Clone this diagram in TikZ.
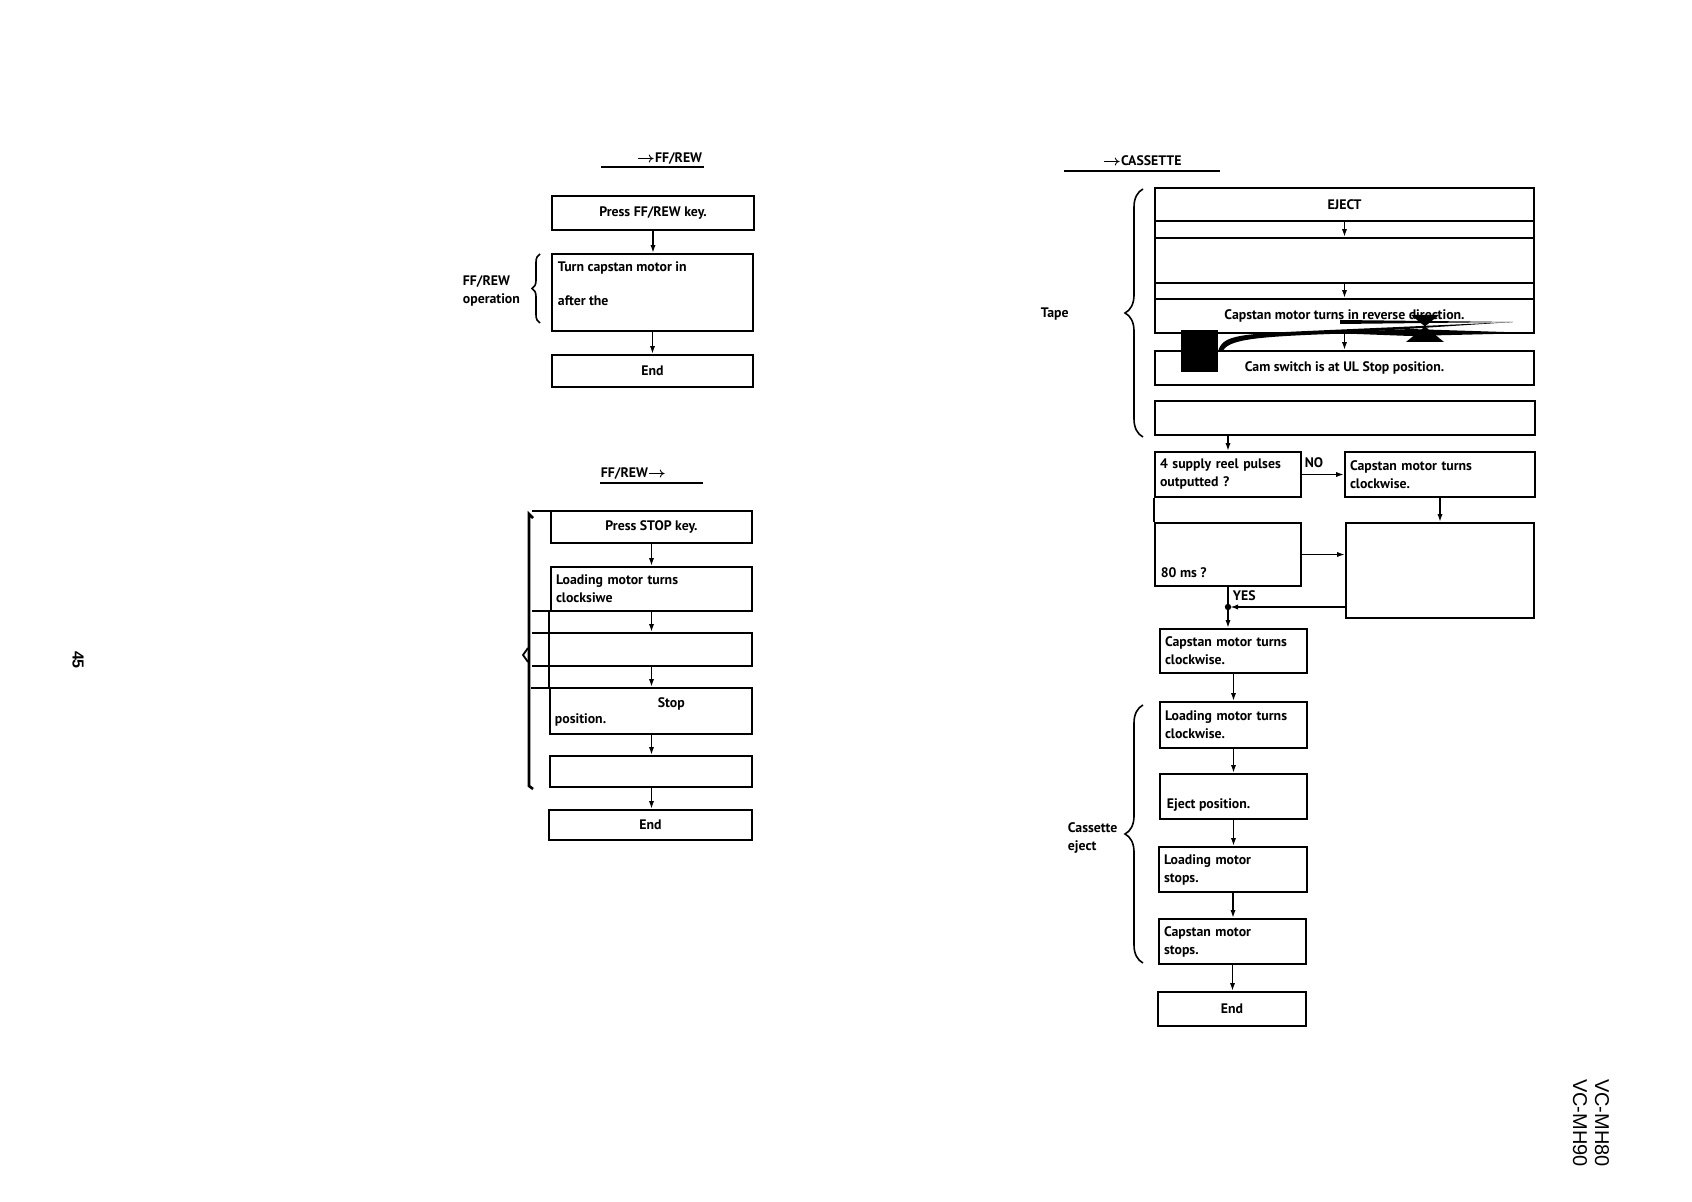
\documentclass[tikz,border=0pt]{standalone}
\usepackage{amsmath}
\usepackage{fontspec}
\usepackage{tikz}
\usetikzlibrary{arrows.meta, decorations.pathreplacing}
\newfontfamily\flowfont{PT Sans}
\newfontfamily\labelfont{Liberation Sans}
\newcommand\flowtext{\flowfont\bfseries\fontsize{6.9pt}{9pt}\selectfont}

\begin{document}
\begin{tikzpicture}[x=0.5pt, y=-0.5pt, line width=0.9pt,
	>={Latex[length=4pt,width=2.6pt]},
	every node/.style={font=\flowtext},
	box/.style={draw, inner sep=0pt, align=center},
	lbox/.style={draw, inner ysep=0pt, inner xsep=2.5pt, align=left},
	lab/.style={inner sep=0pt, anchor=west, align=left},
	brace/.style={decorate, decoration={brace, amplitude=#1}, line width=0.8pt}]
				\useasboundingbox (0,0) rectangle (1692,1202);

				\node[lab, anchor=base east] (ffTitle) at (703,163) {$\boldsymbol{\rightarrow}$FF/REW};
				\draw (601,167) -- (704,167);
				\node[box, minimum width=101pt, minimum height=17pt] (ffKey) at (653,213) {Press FF/REW key.};
				\node[box, minimum width=100.5pt, minimum height=38.5pt] (ffTurn) at (652.5,292.5) {};
				\node[lab] (ffTurnA) at (557,268) {Turn capstan motor in};
				\node[lab] (ffTurnB) at (557,301) {after the};
				\node[box, minimum width=100.5pt, minimum height=16pt] (ffEnd) at (652.5,371) {End};
				\draw[->] (ffKey.south) -- (ffKey.south |- ffTurn.north);
				\draw[->] (ffTurn.south) -- (ffTurn.south |- ffEnd.north);
				\draw[brace=4pt] (540,323) -- (540,254);
				\node[lab] (ffOp) at (462,290.5) {FF/REW\\operation};

				\node[lab, anchor=base west] (stTitle) at (600,478) {FF/REW$\boldsymbol{\rightarrow}$};
				\draw (600,483) -- (703,483);
				\draw (532,511) -- (551,511);
				\node[box, minimum width=100.5pt, minimum height=16pt] (stKey) at (651.5,527) {Press STOP key.};
				\node[lbox, text width=95.5pt, minimum height=22pt] (stLoad) at (651.5,589) {Loading motor turns\\clocksiwe};
				\draw (532,611) -- (551,611);
				\node[box, minimum width=101.5pt, minimum height=16.5pt] (stBlank) at (650.5,649.5) {};
				\draw (532,633) -- (549,633) (532,666) -- (549,666);
				\draw (549,611) -- (549,688);
				\draw (531,688) -- (550,688);
				\node[box, minimum width=101pt, minimum height=23pt] (stPos) at (651,711) {};
				\node[lab] (stPosA) at (657,704) {Stop};
				\node[lab] (stPosB) at (554,720) {position.};
				\node[box, minimum width=101pt, minimum height=15.5pt] (stFaint) at (651,771.5) {};
				\node[box, minimum width=101.5pt, minimum height=15pt] (stEnd) at (650.5,825) {End};
				\draw[->] (stKey.south) -- (stKey.south |- stLoad.north);
				\draw[->] (stLoad.south) -- (stLoad.south |- stBlank.north);
				\draw[->] (stBlank.south -| stLoad.south) -- (stLoad.south |- stPos.north);
				\draw[->] (stPos.south -| stLoad.south) -- (stLoad.south |- stFaint.north);
				\draw[->] (stFaint.south -| stLoad.south) -- (stLoad.south |- stEnd.north);
				\draw[line width=1.3pt] (533,518) -- (529,514) -- (529,786) -- (533,789);
				\draw (528,648) -- (523,655) -- (528,662);

				\node[lab, anchor=base west] (caTitle) at (1102,166) {$\boldsymbol{\rightarrow}$CASSETTE};
				\draw (1064,171) -- (1220,171);
				\draw (1155,188) -- (1155,333) (1534,188) -- (1534,333);
				\node[box, minimum width=189.5pt, minimum height=16.5pt] (caEject) at (1344.5,204.5) {EJECT};
				\node[box, minimum width=189.5pt, minimum height=22.5pt] (caBlank) at (1344.5,260.5) {};
				\node[box, minimum width=189.5pt, minimum height=17pt] (caRev) at (1344.5,316) {Capstan motor turns in reverse direction.};
				\node[box, minimum width=189.5pt, minimum height=17pt] (caCam) at (1344.5,368) {Cam switch is at UL Stop position.};
				\node[box, minimum width=190pt, minimum height=17pt] (caWait) at (1345,418) {};
				\draw[->] (caEject.south) -- (caBlank.north);
				\draw[->] (caBlank.south) -- (caRev.north);
				\draw[->] (caRev.south) -- (caCam.north);
				\fill (1181,330) rectangle (1218,372);
				\fill (1218,352) .. controls (1222,334) and (1240,334) .. (1330,330) -- (1513,322) -- (1330,334) .. controls (1250,337) and (1228,340) .. (1222,352) -- cycle;
				\fill (1340,320) -- (1513,322) -- (1340,324) -- cycle;
				\fill (1330,333) -- (1410,329) -- (1535,333) -- (1410,336) -- cycle;
				\fill (1411,315) -- (1439,315) -- (1406,342) -- (1444,342) -- cycle;
				\draw[brace=9pt] (1143,437) -- (1143,189);
				\node[lab] (caTape) at (1040,314) {Tape};

				\node[lbox, text width=68pt, minimum height=22.5pt] (caPulse) at (1228,474.5) {4 supply reel pulses\\outputted ?};
				\node[lbox, text width=90pt, minimum height=22.5pt] (caCw) at (1440,474.5) {Capstan motor turns\\clockwise.};
				\node[box, minimum width=94pt, minimum height=47.5pt] (caHold) at (1440,570.5) {};
				\node[box, minimum width=73pt, minimum height=31.5pt] (caMs) at (1228,554.5) {};
				\node[lab] (caMsA) at (1160,573) {80 ms ?};
				\node[lab] (caNo) at (1304,463) {NO};
				\node[lab] (caYes) at (1232,596) {YES};
				\coordinate (caJoin) at (1228,607);
				\draw[->] (caPulse.north |- caWait.south) -- (caPulse.north);
				\draw (caPulse.south west) -- (caMs.north west);
				\draw[->] (caPulse.east) -- (caCw.west);
				\draw[->] (caCw.south) -- (caCw.south |- caHold.north);
				\draw[->] (caMs.east) -- (caMs.east -| caHold.west);
				\draw (caMs.south) -- (caJoin);
				\fill (caJoin) circle (1.6pt);
				\draw[->, shorten >=1pt] (caJoin -| caHold.west) -- (caJoin);

				\node[lbox, text width=68.5pt, minimum height=22pt] (caCw2) at (1233.5,651) {Capstan motor turns\\clockwise.};
				\node[lbox, text width=68.5pt, minimum height=23pt] (caLoad) at (1233.5,725) {Loading motor turns\\clockwise.};
				\node[box, minimum width=73.5pt, minimum height=22.5pt] (caEjPos) at (1233.5,796.5) {};
				\node[lab] (caEjPosA) at (1166,805) {Eject position.};
				\node[lbox, text width=69pt, minimum height=22.5pt] (caLoadStop) at (1233,869.5) {Loading motor\\stops.};
				\node[lbox, text width=68.5pt, minimum height=22.5pt] (caCapStop) at (1232.5,941.5) {Capstan motor\\stops.};
				\node[box, minimum width=74pt, minimum height=17pt] (caEnd) at (1232,1009) {End};
				\draw[->] (caJoin) -- (caJoin |- caCw2.north);
				\draw[->] (caCw2.south) -- (caLoad.north);
				\draw[->] (caLoad.south) -- (caEjPos.north);
				\draw[->] (caEjPos.south) -- (caEjPos.south |- caLoadStop.north);
				\draw[->] (caLoadStop.south) -- (caLoadStop.south |- caCapStop.north);
				\draw[->] (caCapStop.south) -- (caCapStop.south |- caEnd.north);
				\draw[brace=9pt] (1143,963) -- (1143,705);
				\node[lab] (caEj) at (1067,838) {Cassette\\eject};

				\node[font=\labelfont\fontsize{10pt}{11pt}\selectfont, rotate=-90, align=center] (model) at (1591,1123) {VC-MH80\\VC-MH90};
				\node[font=\labelfont\bfseries\fontsize{8pt}{9pt}\selectfont, rotate=-90] (page) at (78,660) {45};
\end{tikzpicture}
\end{document}
